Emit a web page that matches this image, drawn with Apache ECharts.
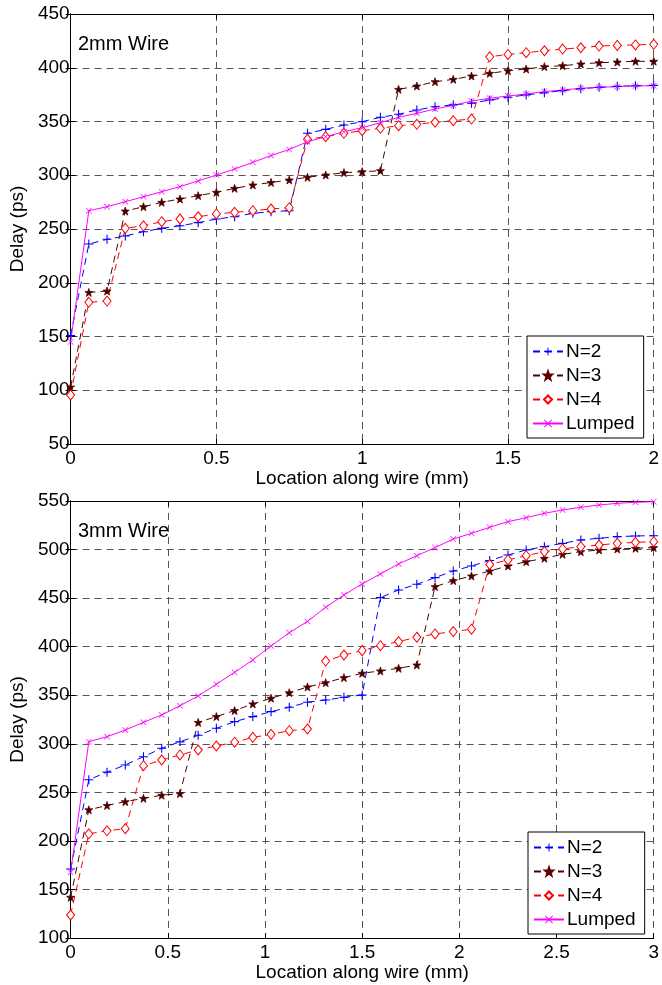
<!DOCTYPE html>
<html>
<head>
<meta charset="utf-8">
<script src="https://cdn.jsdelivr.net/npm/echarts@6/dist/echarts.min.js"></script>
<style>
html,body{margin:0;padding:0;background:#fff;}
#c{width:662px;height:985px;}
</style>
</head>
<body>
<div id="c"></div>
<script>
// ---- data ----
const seriesNames = ['N=2', 'N=3', 'N=4', 'Lumped'];
const topX = [0,0.0625,0.125,0.1875,0.25,0.3125,0.375,0.4375,0.5,0.5625,0.625,0.6875,0.75,0.8125,0.875,0.9375,1,1.0625,1.125,1.1875,1.25,1.3125,1.375,1.4375,1.5,1.5625,1.625,1.6875,1.75,1.8125,1.875,1.9375,2];
const topN2 = [151,236,240.4,243.5,247.5,250.6,253,255.9,259.3,261.4,264.6,266.1,267,339,342.7,346.7,349.8,353.9,356.7,360.7,363.8,365.5,367,370,372.5,374.7,376.8,378.7,380.5,381.8,382.7,383.3,383.6];
const topN3 = [103,191,192.3,266.7,270.7,274.8,277.9,281,284.1,287.8,290.9,293.3,295.6,298.1,300.2,302.4,303.3,304.2,379.9,383,387,389.2,392.3,394.8,397.2,398.8,401,401.9,403.5,404.7,405.3,406,406];
const topN4 = [95.6,181.8,183,250.6,253,256.8,259.3,261.4,264,265.5,267,268.6,269.8,333.5,335.9,339,341.5,343.7,346.1,347.4,349.3,350.8,352.3,410.2,412.4,414,415.8,417.4,418.6,420.2,420.8,421.2,421.8];
const topLumped = [145,267,270.7,275.4,280,284.7,289.4,294.7,300.2,305.8,312,318.3,324,331.2,335.9,340.5,344.2,348.9,353.9,357.6,361.6,365,369,371.6,373.7,375.6,377.8,379.3,380.9,381.8,382.4,383,383.3];

const botX = [0,0.09375,0.1875,0.28125,0.375,0.46875,0.5625,0.65625,0.75,0.84375,0.9375,1.03125,1.125,1.21875,1.3125,1.40625,1.5,1.59375,1.6875,1.78125,1.875,1.96875,2.0625,2.15625,2.25,2.34375,2.4375,2.53125,2.625,2.71875,2.8125,2.90625,3];
const botN2 = [171,263,270.8,278.2,286.7,295.4,302,308.7,316,322.8,328,333.1,337.6,342.8,345.1,347.8,350.3,450.5,458.4,464.2,471.1,477.9,483.1,488.8,494.4,499.6,503,506.4,509.9,511.6,513.3,514,514.3];
const botN3 = [141.9,232,236.5,240.4,243.8,247,248.7,322,328,334.2,341,346.9,352.6,358.5,362.9,368.1,372.6,375,377.7,381.1,461.8,468,472.8,477.9,483.1,487.5,491,495.1,497.8,499.6,500.6,501.3,502];
const botN4 = [123.7,207.3,210.4,212.6,277.4,283.3,288.5,293.6,297.7,301.6,306.6,309.7,313.5,315.2,385.2,391.4,395.9,401,405.2,409.7,413.1,415.5,418,484.6,489.3,493.7,497.8,500.6,503,504.7,506.4,507.4,508.1];
const botLumped = [167.7,302.2,307.3,314.2,322.1,329.7,339.2,349.2,361.3,373.6,386.3,400.7,414.4,426,440.6,453.2,464.6,474.9,485.2,493.7,502,510.9,516.7,522.9,528.7,532.8,537.3,540.8,543.5,545.9,547.6,548.7,549.3];

const topXTicks = {min:0, max:2, interval:0.5};
const topYTicks = {min:50, max:450, interval:50};
const botXTicks = {min:0, max:3, interval:0.5};
const botYTicks = {min:100, max:550, interval:50};

// ---- styling ----
const FONT = 'Liberation Sans, Arial, sans-serif';
const FS = 19;
const plusSym = 'path://M4.4,0H5.6V4.4H10V5.6H5.6V10H4.4V5.6H0V4.4H4.4Z';
const xSym = 'path://M0.8,0L5,4.2L9.2,0L10,0.8L5.8,5L10,9.2L9.2,10L5,5.8L0.8,10L0,9.2L4.2,5L0,0.8Z';
const starSym = 'path://M5,0L6.176,3.382L9.755,3.455L6.902,5.618L7.939,9.045L5,7L2.061,9.045L3.098,5.618L0.245,3.455L3.824,3.382Z';

const styles = {
  'N=2': {symbol: plusSym, symbolSize: 9, itemStyle:{color:'#0000ff', borderWidth:0}, lineStyle:{color:'#0000ff', width:1, type:[7,5]}},
  'N=3': {symbol: starSym, symbolSize: 8, itemStyle:{color:'#3a0000', borderColor:'#600000', borderWidth:0.8}, lineStyle:{color:'#4d0000', width:1, type:[7,5]}},
  'N=4': {symbol: 'diamond', symbolSize: [8,10], itemStyle:{color:'#ffffff', borderColor:'#ff0000', borderWidth:1}, lineStyle:{color:'#ff0000', width:1, type:[7,5]}},
  'Lumped': {symbol: xSym, symbolSize: 6, itemStyle:{color:'#ff00ff', borderWidth:0}, lineStyle:{color:'#ff00ff', width:1, type:'solid'}}
};

function pairs(xs, ys){ return xs.map((x,i)=>[x, ys[i]]); }

function makeSeries(name, xs, ys, axisIdx){
  const s = styles[name];
  return Object.assign({
    type:'line', name:name, xAxisIndex:axisIdx, yAxisIndex:axisIdx,
    data: pairs(xs, ys), showAllSymbol:true, animation:false,
    emphasis:{disabled:true}
  }, JSON.parse(JSON.stringify(s)));
}

function xAxes(t, gi){
  return [
    {type:'value', gridIndex:gi, min:t.min, max:t.max, interval:t.interval, position:'bottom',
     axisLine:{show:true, lineStyle:{color:'#000', width:1}},
     axisTick:{show:true, inside:true, length:5, lineStyle:{color:'#000'}},
     axisLabel:{color:'#000', fontSize:FS, fontFamily:FONT, margin:5, formatter:v=>String(v)},
     splitLine:{show:true, lineStyle:{color:'#555', width:1, type:[7,5]}},
     name:'Location along wire (mm)', nameLocation:'middle', nameGap:25,
     nameTextStyle:{color:'#000', fontSize:FS, fontFamily:FONT}},
    {type:'value', gridIndex:gi, min:t.min, max:t.max, interval:t.interval, position:'top',
     axisLine:{show:true, lineStyle:{color:'#000', width:1}},
     axisTick:{show:true, inside:true, length:5, lineStyle:{color:'#000'}},
     axisLabel:{show:false}, splitLine:{show:false}}
  ];
}
function yAxes(t, gi){
  return [
    {type:'value', gridIndex:gi, min:t.min, max:t.max, interval:t.interval, position:'left',
     axisLine:{show:true, lineStyle:{color:'#000', width:1}},
     axisTick:{show:true, inside:true, length:5, lineStyle:{color:'#000'}},
     axisLabel:{color:'#000', fontSize:FS, fontFamily:FONT, margin:1},
     splitLine:{show:true, lineStyle:{color:'#555', width:1, type:[7,5]}},
     name:'Delay (ps)', nameLocation:'middle', nameGap:39,
     nameTextStyle:{color:'#000', fontSize:FS, fontFamily:FONT}},
    {type:'value', gridIndex:gi, min:t.min, max:t.max, interval:t.interval, position:'right',
     axisLine:{show:true, lineStyle:{color:'#000', width:1}},
     axisTick:{show:true, inside:true, length:5, lineStyle:{color:'#000'}},
     axisLabel:{show:false}, splitLine:{show:false}}
  ];
}

function legend(left, top){
  return {
    left:left, top:top, orient:'vertical', data:seriesNames,
    itemWidth:30, itemHeight:10, itemGap:5,
    padding:[6,9,5,5],
    backgroundColor:'#fff', borderColor:'#000', borderWidth:1, borderRadius:0,
    textStyle:{color:'#000', fontSize:FS, fontFamily:FONT, padding:[0,0,0,-2]},
    selectedMode:false
  };
}

const series = [
  makeSeries('N=2', topX, topN2, 0),
  makeSeries('N=3', topX, topN3, 0),
  makeSeries('N=4', topX, topN4, 0),
  makeSeries('Lumped', topX, topLumped, 0),
  makeSeries('N=2', botX, botN2, 2),
  makeSeries('N=3', botX, botN3, 2),
  makeSeries('N=4', botX, botN4, 2),
  makeSeries('Lumped', botX, botLumped, 2)
];

const option = {
  backgroundColor:'#fff',
  animation:false,
  title:[
    {text:'2mm Wire', left:78, top:34, padding:0, textStyle:{color:'#000', fontSize:20, fontWeight:'normal', fontFamily:FONT}},
    {text:'3mm Wire', left:78, top:521, padding:0, textStyle:{color:'#000', fontSize:20, fontWeight:'normal', fontFamily:FONT}}
  ],
  grid:[
    {left:69, top:14, width:588, height:430, show:false},
    {left:69, top:501, width:588, height:437, show:false}
  ],
  xAxis: xAxes(topXTicks,0).concat(xAxes(botXTicks,1)),
  yAxis: yAxes(topYTicks,0).concat(yAxes(botYTicks,1)),
  legend:[legend(527,336), legend(528,832)],
  series: series
};

const chart = echarts.init(document.getElementById('c'), null, {renderer:'canvas'});
chart.setOption(option);
</script>
</body>
</html>
